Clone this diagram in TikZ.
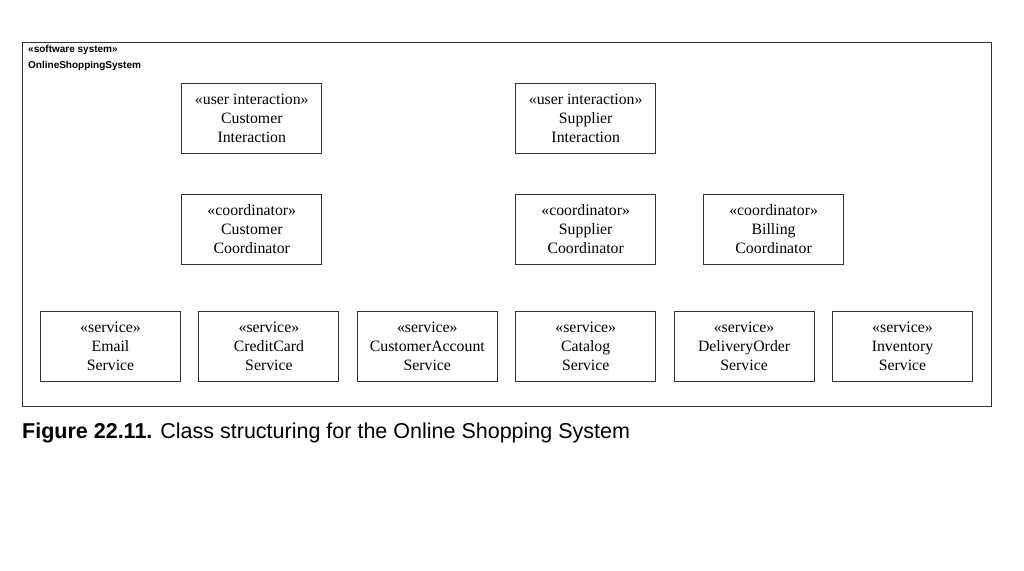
\documentclass[tikz,border=0pt]{standalone}
\usepackage{fontspec}
\setmainfont{Liberation Serif}
\setsansfont{Liberation Sans}
\usetikzlibrary{positioning}

\begin{document}
\begin{tikzpicture}[x=1pt,y=-1pt,
class/.style={draw=black!80,line width=0.9pt,align=center,minimum width=140pt,minimum height=70pt,inner sep=0pt,font=\fontsize{15.8}{18.8}\selectfont},
frame/.style={draw=black!80,line width=0.9pt},
sysname/.style={anchor=north west,align=left,inner sep=0pt,font=\sffamily\bfseries\fontsize{10}{16.5}\selectfont},
caption/.style={anchor=base west,inner sep=0pt,font=\sffamily\fontsize{21.5}{24}\selectfont}]
\useasboundingbox (0,0) rectangle (1024,570);
\draw[frame] (22,42) rectangle (991,406);
\node[sysname] (system) at (28,45) {«software system»\\OnlineShoppingSystem};
% services
\node[class] (email) at (110.5,346.5) {«service»\\Email\\Service};
\node[class,right=17.5pt of email] (creditcard) {«service»\\CreditCard\\Service};
\node[class,right=17.5pt of creditcard] (custaccount) {«service»\\CustomerAccount\\Service};
\node[class,right=17.5pt of custaccount] (catalog) {«service»\\Catalog\\Service};
\node[class,right=17.5pt of catalog] (delivery) {«service»\\DeliveryOrder\\Service};
\node[class,right=17.5pt of delivery] (inventory) {«service»\\Inventory\\Service};
% coordinators
\node[class,above=46.5pt of catalog] (supcoord) {«coordinator»\\Supplier\\Coordinator};
\node[class,right=47pt of supcoord] (billcoord) {«coordinator»\\Billing\\Coordinator};
\node[class,left=193pt of supcoord] (custcoord) {«coordinator»\\Customer\\Coordinator};
% user interaction
\node[class,above=40pt of custcoord] (custint) {«user interaction»\\Customer\\Interaction};
\node[class,above=40pt of supcoord] (supint) {«user interaction»\\Supplier\\Interaction};
\node[caption] (caption) at (22,438) {\textbf{Figure 22.11.} Class structuring for the Online Shopping System};
\end{tikzpicture}
\end{document}
